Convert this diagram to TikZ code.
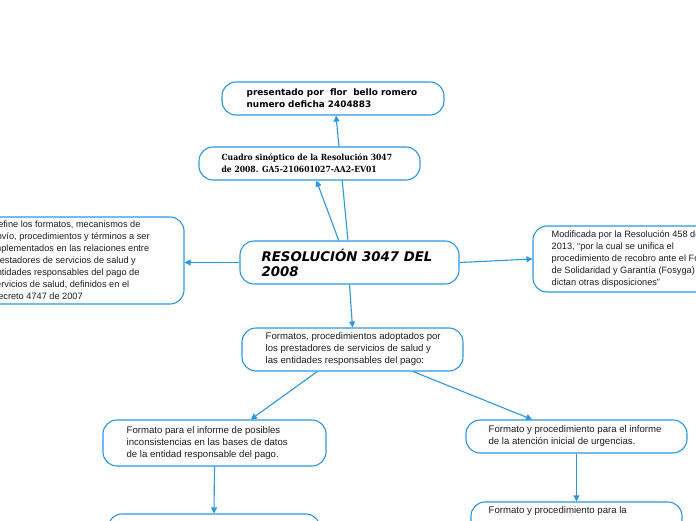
\documentclass[tikz,border=0pt]{standalone}
\usepackage{fontspec}
\setmainfont{Liberation Sans}
\newfontfamily\boldsans{DejaVu Sans}
\newfontfamily\slabfont{DejaVu Serif Condensed}
\usetikzlibrary{arrows.meta,backgrounds}
\definecolor{mmblue}{RGB}{40,152,228}
\definecolor{mmtext}{RGB}{30,30,30}
\begin{document}
\begin{tikzpicture}[x=1pt,y=-1pt,
  box/.style={draw=mmblue, line width=1.1pt, rounded corners=14pt, fill=white, inner sep=0pt},
  txt/.style={align=left, inner sep=0pt, anchor=west, font=\fontsize{9.6}{12}\selectfont, text=mmtext},
  sidetxt/.style={txt, font=\fontsize{9.2}{12}\selectfont},
  conn/.style={draw=mmblue, line width=1.1pt, -{Triangle[length=6pt,width=6pt]}}]
\useasboundingbox (0,0) rectangle (696,520);
\clip (0,0) rectangle (696,520);
% boxes
\node[box, minimum width=222pt, minimum height=33pt] (P) at (333,98.5) {};
\node[box, minimum width=221pt, minimum height=33pt] (Q) at (309.5,163.5) {};
\node[box, minimum width=219pt, minimum height=43pt] (C) at (349.5,262.5) {};
\node[box, minimum width=216pt, minimum height=87pt] (L) at (76,260.5) {};
\node[box, minimum width=228pt, minimum height=66pt] (R) at (647,259) {};
\node[box, minimum width=221pt, minimum height=43pt] (F) at (352.5,349.5) {};
\node[box, minimum width=223pt, minimum height=46pt] (A) at (214.5,443) {};
\node[box, minimum width=221pt, minimum height=33pt] (B) at (576.5,436.5) {};
\node[box, minimum width=212pt, minimum height=52pt] (A2) at (214,540) {};
\node[box, minimum width=211pt, minimum height=52pt] (B2) at (576.5,528) {};
% texts
\node[txt, font=\boldsans\bfseries\fontsize{8.9}{12}\selectfont, text=black] (Pt) at ([xshift=25pt]P.west)
  {presentado por\ \ flor\ \ bello romero\\numero deficha 2404883};
\node[txt, font=\slabfont\bfseries\fontsize{8.5}{12}\selectfont, text=black] (Qt) at ([xshift=23pt]Q.west)
  {Cuadro sinóptico de la Resolución 3047\\de 2008. GA5-210601027-AA2-EV01};
\node[txt, font=\boldsans\bfseries\itshape\fontsize{13.3}{15}\selectfont, text=black] (Ct) at ([xshift=22pt]C.west)
  {RESOLUCIÓN 3047 DEL\\2008};
\node[sidetxt] (Lt) at ([xshift=24pt]L.west)
  {Define los formatos, mecanismos de\\envío, procedimientos y términos a ser\\implementados en las relaciones entre\\prestadores de servicios de salud y\\entidades responsables del pago de\\servicios de salud, definidos en el\\Decreto 4747 de 2007};
\node[sidetxt] (Rt) at ([xshift=19pt]R.west)
  {Modificada por la Resolución 458 de\\2013, “por la cual se unifica el\\procedimiento de recobro ante el Fondo\\de Solidaridad y Garantía (Fosyga) y se\\dictan otras disposiciones”};
\node[txt] (Ft) at ([xshift=24pt]F.west)
  {Formatos, procedimientos adoptados por\\los prestadores de servicios de salud y\\las entidades responsables del pago:};
\node[txt] (At) at ([xshift=24pt]A.west)
  {Formato para el informe de posibles\\inconsistencias en las bases de datos\\de la entidad responsable del pago.};
\node[txt] (Bt) at ([xshift=23pt]B.west)
  {Formato y procedimiento para el informe\\de la atención inicial de urgencias.};
\node[txt, anchor=north west] (B2t) at ([xshift=18pt,yshift=-5pt]B2.north west)
  {Formato y procedimiento para la};
% connectors, behind the boxes
\begin{scope}[on background layer]
\draw[conn] (C.94) -- (P.-80);
\draw[conn] (C.116) -- (Q.-68.5);
\draw[conn] (C.west) -- (C.west -| L.east);
\draw[conn] (C.east) -- (R.west);
\draw[conn] (C.south) -- (F.north);
\draw[conn] (F.-148) -- (A.33);
\draw[conn] (F.-20.2) -- (B.159.7);
\draw[conn] (A.south) -- (A2.north);
\draw[conn] (B.south) -- (B2.north);
\end{scope}
\end{tikzpicture}
\end{document}
